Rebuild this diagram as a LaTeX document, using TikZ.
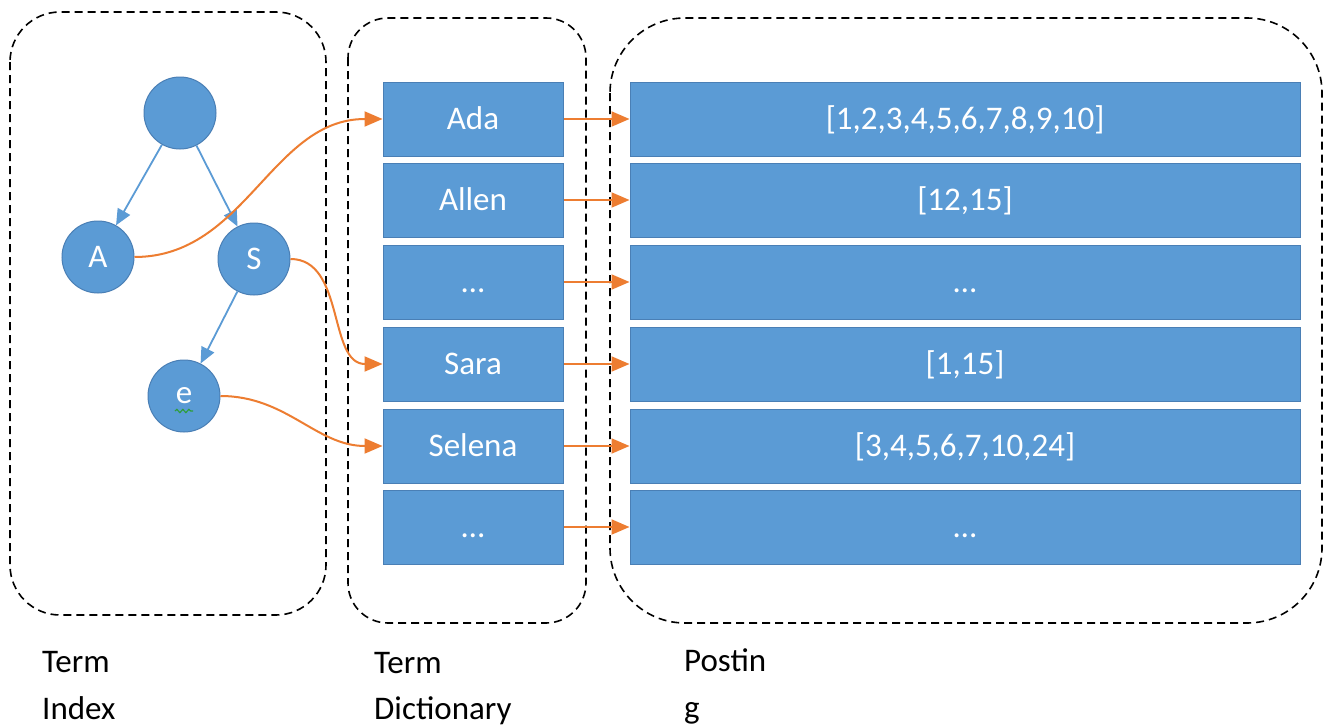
\documentclass[tikz,border=0pt]{standalone}
\usepackage{fontspec}
\setmainfont{Carlito}
\usetikzlibrary{arrows.meta,decorations.pathmorphing}
\definecolor{boxblue}{HTML}{5B9BD5}
\definecolor{boxline}{HTML}{4A7FB5}
\definecolor{linkorange}{HTML}{ED7D31}
\definecolor{squiggle}{HTML}{2E9E3A}
\begin{document}
\begin{tikzpicture}[x=1pt,y=-1pt,
	every node/.style={font=\fontsize{33}{40}\selectfont},
	trienode/.style={circle,fill=boxblue,draw=boxline,line width=1pt,minimum size=72pt,inner sep=0pt,text=white},
	dictbox/.style={rectangle,fill=boxblue,draw=boxline,line width=1pt,minimum width=180pt,minimum height=74pt,inner sep=0pt,text=white,text height=21pt,text depth=0pt},
	postbox/.style={dictbox,minimum width=670pt},
	group/.style={draw=black,line width=1.6pt,dash pattern=on 8pt off 5pt},
	trieedge/.style={boxblue,line width=1.8pt,-{Triangle[length=16pt,width=14pt]}},
	link/.style={linkorange,line width=2pt,-{Triangle[length=18pt,width=15pt]}},
	caption/.style={anchor=base west,inner sep=0pt,text=black}]
	\useasboundingbox (0,0) rectangle (1326,728);
	\fill[white] (0,0) rectangle (1326,728);

%	dashed groups
	\draw[group,rounded corners=50pt] (10,12) rectangle (326,615);
	\draw[group,rounded corners=40pt] (348,18) rectangle (586,623);
	\draw[group,rounded corners=75pt] (610,18) rectangle (1322,623);

%	\coordinate (    ) at (x, row);
	\coordinate (t0) at (180,113);
	\coordinate (tA) at (98,257);
	\coordinate (tS) at (254,259);
	\coordinate (te) at (184,396);

	\node[trienode] (root) at (t0) {};
	\node[trienode] (A) at (tA) {A};
	\node[trienode] (S) at (tS) {S};
	\node[trienode] (e) at (te) {e};
	\draw[squiggle,line width=1.2pt,decorate,decoration={snake,amplitude=1.6pt,segment length=6pt}]
		([xshift=-9pt,yshift=-15pt]e.center) -- ++(18,0);

	\node[dictbox] (d1) at (473,119) {Ada};
	\node[dictbox] (d2) at (473,200) {Allen};
	\node[dictbox] (d3) at (473,282) {…};
	\node[dictbox] (d4) at (473,364) {Sara};
	\node[dictbox] (d5) at (473,446) {Selena};
	\node[dictbox] (d6) at (473,527) {…};

	\node[postbox] (p1) at (965,119) {[1,2,3,4,5,6,7,8,9,10]};
	\node[postbox] (p2) at (965,200) {[12,15]};
	\node[postbox] (p3) at (965,282) {…};
	\node[postbox] (p4) at (965,364) {[1,15]};
	\node[postbox] (p5) at (965,446) {[3,4,5,6,7,10,24]};
	\node[postbox] (p6) at (965,527) {…};

	\draw[trieedge] (root) -- (A);
	\draw[trieedge] (root) -- (S);
	\draw[trieedge] (S) -- (e);

	\draw[link] (A.east) to[out=0,in=180] (d1.west);
	\draw[link] (S.east) to[out=0,in=180] (d4.west);
	\draw[link] (e.east) to[out=0,in=180] (d5.west);

	\draw[link] (d1.east) -- (p1.west);
	\draw[link] (d2.east) -- (p2.west);
	\draw[link] (d3.east) -- (p3.west);
	\draw[link] (d4.east) -- (p4.west);
	\draw[link] (d5.east) -- (p5.west);
	\draw[link] (d6.east) -- (p6.west);

	\node[caption] (ti1) at (42,672) {Term};
	\node[caption] (ti2) at (42,719) {Index};
	\node[caption] (td1) at (374,673) {Term};
	\node[caption] (td2) at (374,719) {Dictionary};
	\node[caption] (tp1) at (684,671) {Postin};
	\node[caption] (tp2) at (684,718) {g};
\end{tikzpicture}
\end{document}
